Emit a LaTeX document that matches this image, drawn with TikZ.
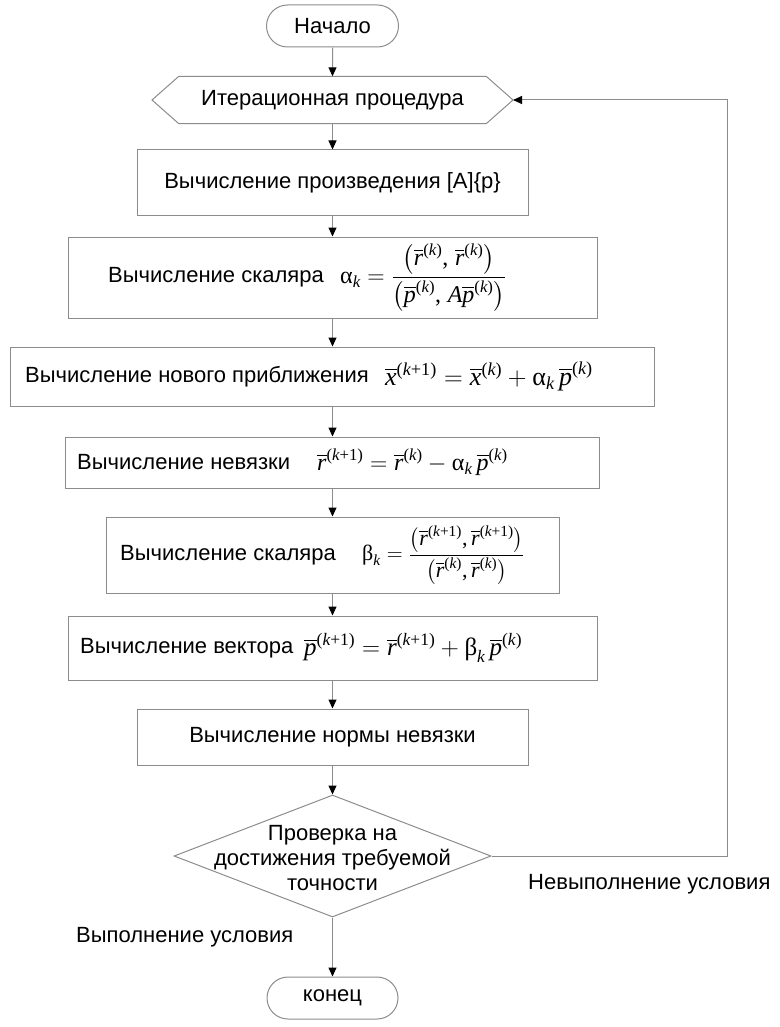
\RequirePackage{fix-cm}
\documentclass[tikz,border=0pt]{standalone}
\usepackage{amsmath}
\usepackage{fontspec}
\setmainfont{Liberation Sans}
\newfontfamily\tms{Liberation Serif}
\usetikzlibrary{arrows.meta,shapes.geometric,shapes.misc}
\definecolor{lgray}{gray}{0.55}
\newcommand\tmu[1]{\text{\tms #1}}
\newcommand\tmi[1]{\text{\tms\itshape #1}}
\newcommand\vb[1]{\overline{\tmi{#1}}}
\newcommand\ks{^{\tmu{(}\tmi{k}\tmu{)}}}
\newcommand\kps{^{\tmu{(}\tmi{k}\tmu{+1)}}}
\tikzset{
  ln/.style={draw=lgray, line width=1pt},
  box/.style={ln, rectangle, inner sep=0pt},
  term/.style={ln, rounded rectangle, inner sep=0pt},
  txt/.style={inner sep=0pt, anchor=west},
  fml/.style={inner sep=0pt, anchor=west, font=\fontsize{25}{29}\selectfont},
  arr/.style={draw=lgray, line width=1pt, -{Triangle[length=9pt,width=8pt,color=black,fill=black]}},
}
\begin{document}
\begin{tikzpicture}[x=1pt,y=-1pt,font=\fontsize{22}{26}\selectfont]
\useasboundingbox (0,0) rectangle (779,1027);

% start
\node[term, minimum width=132pt, minimum height=42pt] (start) at (332.5,26) {Начало};

% hexagon
\node[inner sep=0pt, minimum width=307pt, minimum height=47pt] (hex) at (332.5,100) {Итерационная процедура};
\coordinate (hexR) at (513,100);
\coordinate (hexL) at (152,100);
\draw[ln] (hex.north west) -- (hex.north east) -- (hexR) -- (hex.south east) -- (hex.south west) -- (hexL) -- cycle;

% boxes
\node[box, minimum width=391pt, minimum height=65pt] (b1) at (332.5,182.5) {};
\node[inner sep=0pt] (t1) at (b1) {Вычисление произведения [A]\{p\}};

\node[box, minimum width=529pt, minimum height=81pt] (b2) at (332.5,277.5) {};
\node[txt] (t2) at (108,277.5) {Вычисление скаляра};
\node[fml, font=\fontsize{24}{28}\selectfont] (f2) at (340,277.5) {$\displaystyle \tmu{α}_{\tmi{k}} = \frac{\left(\vb{r}\ks\tmu{,}\;\vb{r}\ks\right)}{\left(\vb{p}\ks\tmu{,}\;\tmi{A}\vb{p}\ks\right)}$};

\node[box, minimum width=644pt, minimum height=59pt] (b3) at (332.5,376.5) {};
\node[txt] (t3) at (25,376.5) {Вычисление нового приближения};
\node[fml, font=\fontsize{26}{30}\selectfont] (f3) at (385,376.5) {$\vb{x}\kps = \vb{x}\ks + \tmu{α}_{\tmi{k}}\,\vb{p}\ks$};

\node[box, minimum width=534pt, minimum height=51pt] (b4) at (332.5,462.5) {};
\node[txt] (t4) at (77,462.5) {Вычисление невязки};
\node[fml, font=\fontsize{24}{28}\selectfont] (f4) at (317,462.5) {$\vb{r}\kps = \vb{r}\ks - \tmu{α}_{\tmi{k}}\,\vb{p}\ks$};

\node[box, minimum width=453pt, minimum height=76pt] (b5) at (332.5,555) {};
\node[txt] (t5) at (120,555) {Вычисление скаляра};
\node[fml, font=\fontsize{22}{26}\selectfont] (f5) at (362,555) {$\displaystyle \tmu{β}_{\tmi{k}} = \frac{\left(\vb{r}\kps\tmu{,}\,\vb{r}\kps\right)}{\left(\vb{r}\ks\tmu{,}\,\vb{r}\ks\right)}$};

\node[box, minimum width=529pt, minimum height=64pt] (b6) at (332.5,648) {};
\node[txt] (t6) at (80,648) {Вычисление вектора};
\node[fml] (f6) at (304,648) {$\vb{p}\kps = \vb{r}\kps + \tmu{β}_{\tmi{k}}\,\vb{p}\ks$};

\node[box, minimum width=391pt, minimum height=56pt] (b7) at (332.5,737) {};
\node[inner sep=0pt] (t7) at (b7) {Вычисление нормы невязки};

% decision
\node[ln, diamond, inner sep=0pt, minimum width=317pt, minimum height=122pt] (dia) at (332.5,856) {};
\node[inner sep=0pt, align=center, font=\fontsize{22}{25}\selectfont] (diat) at (332.5,858) {Проверка на\\достижения требуемой\\точности};

% end
\node[term, minimum width=131pt, minimum height=42pt] (end) at (332.5,998) {конец};

% labels
\node[txt] (no) at (528,884) {Невыполнение условия};
\node[txt] (yes) at (76,937) {Выполнение условия};

% connectors
\draw[arr] (start) -- (hex.north);
\draw[arr] (hex.south) -- (b1);
\draw[arr] (b1) -- (b2);
\draw[arr] (b2) -- (b3);
\draw[arr] (b3) -- (b4);
\draw[arr] (b4) -- (b5);
\draw[arr] (b5) -- (b6);
\draw[arr] (b6) -- (b7);
\draw[arr] (b7) -- (dia);
\draw[arr] (dia) -- (end);
\coordinate (loopTop) at (727,100);
\draw[arr] (dia.east) -| (loopTop) -- (hexR);
\end{tikzpicture}
\end{document}
